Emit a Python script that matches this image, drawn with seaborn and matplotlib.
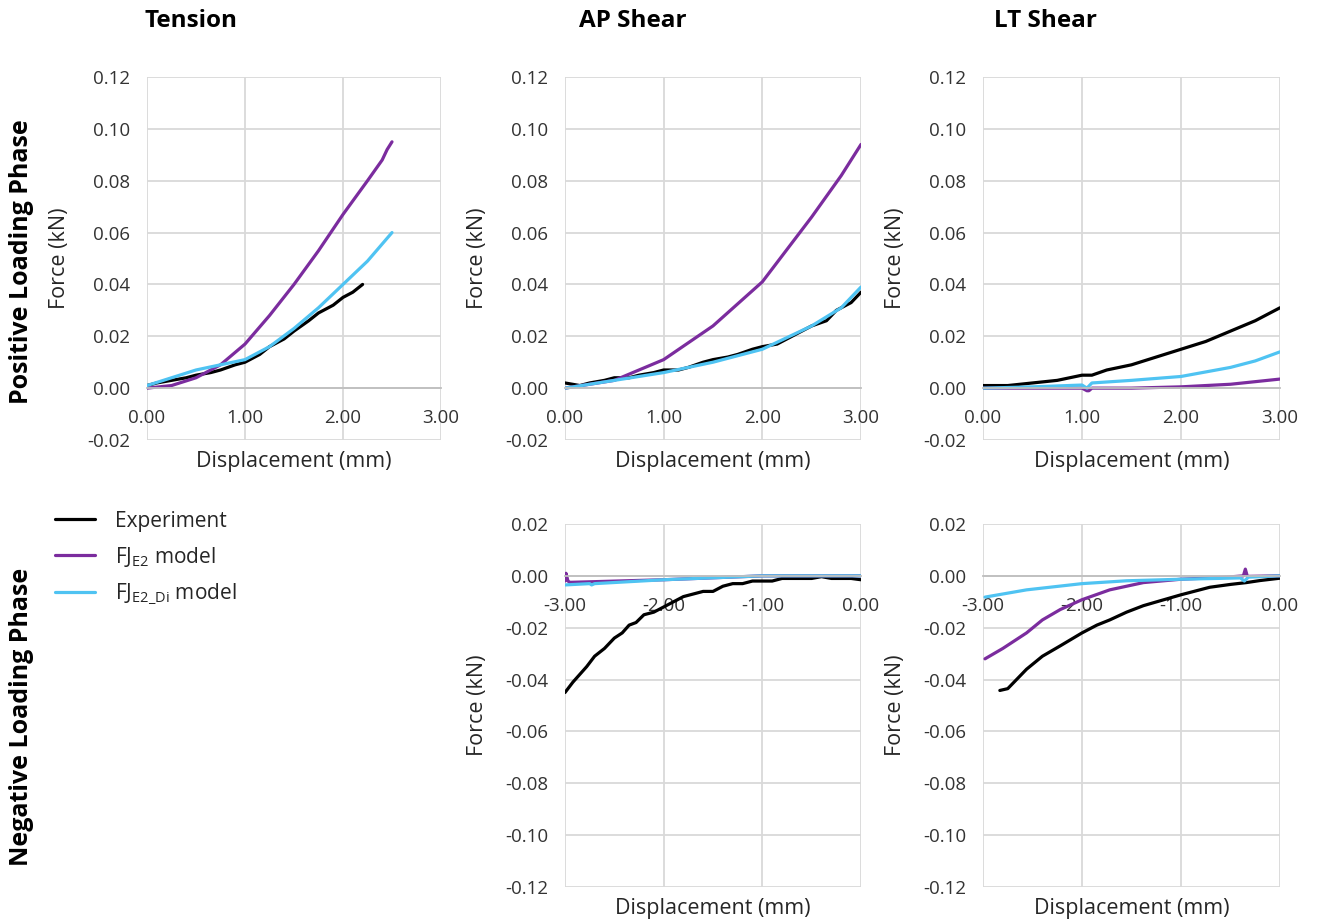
import matplotlib
matplotlib.use("Agg")
import matplotlib.pyplot as plt
import seaborn as sns
from matplotlib.lines import Line2D

# ---------------- data ----------------
# Tension, positive loading
ten_exp_x = [0.00, 0.10, 0.25, 0.40, 0.50, 0.65, 0.75, 0.90, 1.00, 1.15, 1.25, 1.40, 1.50, 1.65, 1.75, 1.90, 2.00, 2.10, 2.20]
ten_exp_y = [0.001, 0.002, 0.003, 0.004, 0.005, 0.006, 0.007, 0.009, 0.010, 0.013, 0.016, 0.019, 0.022, 0.026, 0.029, 0.032, 0.035, 0.037, 0.040]
ten_e2_x = [0.00, 0.25, 0.50, 0.75, 1.00, 1.25, 1.50, 1.75, 2.00, 2.25, 2.40, 2.45, 2.50]
ten_e2_y = [0.000, 0.001, 0.004, 0.009, 0.017, 0.028, 0.040, 0.053, 0.067, 0.080, 0.088, 0.092, 0.095]
ten_di_x = [0.00, 0.25, 0.50, 0.75, 1.00, 1.25, 1.50, 1.75, 2.00, 2.25, 2.50]
ten_di_y = [0.001, 0.004, 0.007, 0.009, 0.011, 0.016, 0.023, 0.031, 0.040, 0.049, 0.060]

# AP shear, positive loading
app_exp_x = [0.00, 0.15, 0.25, 0.40, 0.50, 0.65, 0.75, 0.90, 1.00, 1.15, 1.25, 1.40, 1.50, 1.65, 1.75, 1.90, 2.00, 2.15, 2.25, 2.40, 2.50, 2.65, 2.75, 2.90, 3.00]
app_exp_y = [0.002, 0.001, 0.002, 0.003, 0.004, 0.004, 0.005, 0.006, 0.007, 0.007, 0.008, 0.010, 0.011, 0.012, 0.013, 0.015, 0.016, 0.017, 0.019, 0.022, 0.024, 0.026, 0.030, 0.033, 0.037]
app_e2_x = [0.00, 0.50, 1.00, 1.50, 2.00, 2.50, 2.80, 3.00]
app_e2_y = [0.000, 0.003, 0.011, 0.024, 0.041, 0.066, 0.082, 0.094]
app_di_x = [0.00, 0.50, 1.00, 1.50, 2.00, 2.50, 2.80, 3.00]
app_di_y = [0.000, 0.003, 0.006, 0.010, 0.015, 0.024, 0.031, 0.039]

# LT shear, positive loading
ltp_exp_x = [0.00, 0.25, 0.50, 0.75, 1.00, 1.10, 1.25, 1.50, 1.75, 2.00, 2.25, 2.50, 2.75, 3.00]
ltp_exp_y = [0.001, 0.001, 0.002, 0.003, 0.005, 0.005, 0.007, 0.009, 0.012, 0.015, 0.018, 0.022, 0.026, 0.031]
ltp_e2_x = [0.00, 1.00, 1.05, 1.07, 1.10, 1.50, 2.00, 2.50, 3.00]
ltp_e2_y = [0.000, 0.000, -0.001, -0.001, 0.000, 0.000, 0.0005, 0.0015, 0.0035]
ltp_di_x = [0.00, 0.50, 1.00, 1.05, 1.10, 1.50, 2.00, 2.50, 2.75, 3.00]
ltp_di_y = [0.000, 0.0005, 0.0012, 0.000, 0.002, 0.003, 0.0045, 0.008, 0.0105, 0.014]

# AP shear, negative loading
apn_exp_x = [-3.00, -2.92, -2.85, -2.78, -2.70, -2.60, -2.50, -2.42, -2.35, -2.28, -2.20, -2.10, -2.00, -1.90, -1.80, -1.70, -1.60, -1.50, -1.40, -1.30, -1.20, -1.10, -1.00, -0.90, -0.80, -0.70, -0.60, -0.50, -0.40, -0.30, -0.20, -0.10, 0.00]
apn_exp_y = [-0.045, -0.041, -0.038, -0.035, -0.031, -0.028, -0.024, -0.022, -0.019, -0.018, -0.015, -0.014, -0.012, -0.010, -0.008, -0.007, -0.006, -0.006, -0.004, -0.003, -0.003, -0.002, -0.002, -0.002, -0.001, -0.001, -0.001, -0.001, -0.0003, -0.001, -0.001, -0.001, -0.0015]
apn_e2_x = [-3.00, -2.99, -2.97, -2.95, -2.00, -1.00, 0.00]
apn_e2_y = [-0.002, 0.001, -0.002, -0.0025, -0.0015, 0.000, 0.000]
apn_di_x = [-3.00, -2.75, -2.73, -2.70, -2.00, -1.00, 0.00]
apn_di_y = [-0.0035, -0.003, -0.0035, -0.003, -0.0015, 0.000, 0.000]

# LT shear, negative loading
ltn_exp_x = [-2.83, -2.75, -2.56, -2.40, -2.22, -2.00, -1.85, -1.72, -1.55, -1.38, -1.20, -1.00, -0.85, -0.71, -0.50, -0.34, -0.20, 0.00]
ltn_exp_y = [-0.0442, -0.0435, -0.036, -0.031, -0.027, -0.022, -0.019, -0.017, -0.014, -0.0115, -0.0095, -0.0073, -0.0058, -0.0044, -0.0033, -0.0026, -0.0018, -0.0009]
ltn_e2_x = [-2.98, -2.80, -2.56, -2.40, -2.22, -2.00, -1.72, -1.38, -1.00, -0.54, -0.37, -0.35, -0.33, 0.00]
ltn_e2_y = [-0.032, -0.028, -0.022, -0.017, -0.013, -0.0092, -0.0054, -0.0026, -0.0013, -0.0005, 0.0000, 0.0026, -0.0002, 0.000]
ltn_di_x = [-2.98, -2.56, -2.00, -1.55, -1.00, -0.40, -0.36, -0.32, 0.00]
ltn_di_y = [-0.0082, -0.0054, -0.0030, -0.0019, -0.0013, -0.0008, -0.0020, -0.0005, 0.000]

series_names = ["Experiment", "FJ$_{\\mathrm{E2}}$ model", "FJ$_{\\mathrm{E2\\_Di}}$ model"]
series_colors = ["#000000", "#7B2C9E", "#4FC3F2"]

col_titles = ["Tension", "AP Shear", "LT Shear"]
row_titles = ["Positive Loading Phase", "Negative Loading Phase"]
pos_yticks = [-0.02, 0.00, 0.02, 0.04, 0.06, 0.08, 0.10, 0.12]
neg_yticks = [-0.12, -0.10, -0.08, -0.06, -0.04, -0.02, 0.00, 0.02]
pos_xticks = [0.0, 1.0, 2.0, 3.0]
neg_xticks = [-3.0, -2.0, -1.0, 0.0]

# ---------------- style ----------------
sns.set_theme(style="white")
plt.rcParams["font.family"] = ["Open Sans", "DejaVu Sans"]
plt.rcParams["mathtext.fontset"] = "custom"
plt.rcParams["mathtext.rm"] = "Open Sans"

W, H = 1317, 923
fig = plt.figure(figsize=(W / 100, H / 100), dpi=100)
fig.patch.set_facecolor("white")

def px_axes(l, t, r, b):
    return fig.add_axes([l / W, 1 - b / H, (r - l) / W, (b - t) / H])

tick_col = "#333333"
label_col = "#262626"
grid_col = "#d9d9d9"

def style_ax(ax, xticks, yticks):
    ax.set_xlim(xticks[0], xticks[-1])
    ax.set_ylim(yticks[0], yticks[-1])
    ax.set_xticks(xticks)
    ax.set_yticks(yticks)
    ax.set_xticklabels([f"{v:.2f}" for v in xticks])
    ax.set_yticklabels([f"{v:.2f}" for v in yticks])
    for s in ["top", "right", "left"]:
        ax.spines[s].set_visible(False)
    ax.spines["bottom"].set_position(("data", 0))
    ax.spines["bottom"].set_color("#bfbfbf")
    ax.spines["bottom"].set_linewidth(1.3)
    ax.grid(True, color=grid_col, linewidth=1.3)
    ax.set_axisbelow(True)
    ax.tick_params(axis="both", length=0, labelsize=13.5, colors=tick_col)
    ax.tick_params(axis="x", pad=15)
    ax.tick_params(axis="y", pad=12)
    ax.set_ylabel("Force (kN)", fontsize=15.5, color=label_col)
    ax.yaxis.set_label_coords(-0.296, 0.5)
    ax.set_xlabel("Displacement (mm)", fontsize=15.5, color=label_col)
    ax.xaxis.set_label_coords(0.5, -0.058)
    ax.xaxis.label.set_verticalalignment("center")
    ax.yaxis.label.set_verticalalignment("center")
    ax.set_facecolor("white")

def draw(ax, xs, ys):
    for x, y, c in zip(xs, ys, series_colors):
        sns.lineplot(x=x, y=y, ax=ax, color=c, linewidth=2.3, sort=False,
                     estimator=None, legend=False)

cols_px = [(147, 441), (565, 861), (983, 1280)]
top_px = (77, 440)
bot_px = (524, 887)

top_data = [
    ([ten_exp_x, ten_e2_x, ten_di_x], [ten_exp_y, ten_e2_y, ten_di_y]),
    ([app_exp_x, app_e2_x, app_di_x], [app_exp_y, app_e2_y, app_di_y]),
    ([ltp_exp_x, ltp_e2_x, ltp_di_x], [ltp_exp_y, ltp_e2_y, ltp_di_y]),
]
bot_data = [
    None,
    ([apn_exp_x, apn_e2_x, apn_di_x], [apn_exp_y, apn_e2_y, apn_di_y]),
    ([ltn_exp_x, ltn_e2_x, ltn_di_x], [ltn_exp_y, ltn_e2_y, ltn_di_y]),
]

for i, (l, r) in enumerate(cols_px):
    ax = px_axes(l, top_px[0], r, top_px[1])
    draw(ax, *top_data[i])
    style_ax(ax, pos_xticks, pos_yticks)
    if bot_data[i] is not None:
        ax2 = px_axes(l, bot_px[0], r, bot_px[1])
        draw(ax2, *bot_data[i])
        style_ax(ax2, neg_xticks, neg_yticks)

# column titles
for (cx, t) in zip([191, 633, 1045], col_titles):
    fig.text(cx / W, 1 - 21 / H, t, ha="center", va="center",
             fontsize=17.5, fontweight="bold", color="#000000")

# row titles
for (cy, t) in zip([262, 717], row_titles):
    fig.text(22 / W, 1 - cy / H, t, ha="center", va="center", rotation=90,
             fontsize=18, fontweight="bold", color="#000000")

# legend
handles = [Line2D([0], [0], color=c, linewidth=2.3) for c in series_colors]
fig.legend(handles, series_names, loc="upper left",
           bbox_to_anchor=(36 / W, 1 - 492 / H), frameon=False,
           fontsize=15, handlelength=1.92, handletextpad=0.96,
           labelspacing=0.62, labelcolor=label_col)

fig.savefig("out.png", dpi=100, facecolor="white")
